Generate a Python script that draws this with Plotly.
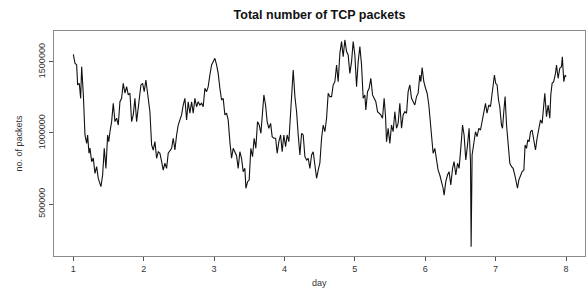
import plotly.graph_objects as go

# day (fractional) and total number of TCP packets
day = [1.000, 1.023, 1.047, 1.061, 1.084, 1.104, 1.118, 1.141, 1.165, 1.189, 1.203, 1.222, 1.236, 1.260,
       1.283, 1.307, 1.331, 1.354, 1.392, 1.416, 1.439, 1.463, 1.487, 1.503, 1.520, 1.544, 1.567, 1.591,
       1.615, 1.638, 1.662, 1.686, 1.709, 1.733, 1.757, 1.780, 1.804, 1.828, 1.851, 1.875, 1.899, 1.932,
       1.960, 1.984, 2.007, 2.031, 2.064, 2.088, 2.112, 2.135, 2.159, 2.183, 2.206, 2.230, 2.254, 2.277,
       2.301, 2.325, 2.348, 2.372, 2.396, 2.419, 2.443, 2.467, 2.490, 2.514, 2.538, 2.561, 2.585, 2.609,
       2.632, 2.656, 2.680, 2.703, 2.727, 2.751, 2.774, 2.798, 2.822, 2.845, 2.869, 2.893, 2.916, 2.940,
       2.964, 2.987, 3.011, 3.035, 3.058, 3.082, 3.106, 3.129, 3.153, 3.177, 3.200, 3.224, 3.248, 3.271,
       3.295, 3.319, 3.342, 3.366, 3.390, 3.413, 3.437, 3.452, 3.476, 3.498, 3.522, 3.546, 3.569, 3.593,
       3.617, 3.641, 3.665, 3.683, 3.707, 3.731, 3.754, 3.778, 3.803, 3.825, 3.849, 3.874, 3.896, 3.920,
       3.945, 3.967, 3.991, 4.016, 4.038, 4.062, 4.087, 4.109, 4.124, 4.148, 4.172, 4.195, 4.219, 4.243,
       4.266, 4.290, 4.314, 4.337, 4.361, 4.385, 4.408, 4.432, 4.456, 4.479, 4.503, 4.527, 4.550, 4.574,
       4.598, 4.621, 4.645, 4.669, 4.692, 4.716, 4.740, 4.763, 4.787, 4.811, 4.834, 4.858, 4.882, 4.905,
       4.929, 4.953, 4.976, 5.000, 5.024, 5.047, 5.071, 5.095, 5.118, 5.142, 5.156, 5.180, 5.203, 5.227,
       5.251, 5.274, 5.298, 5.322, 5.345, 5.369, 5.393, 5.416, 5.436, 5.450, 5.473, 5.497, 5.521, 5.544,
       5.568, 5.592, 5.615, 5.639, 5.663, 5.686, 5.710, 5.734, 5.757, 5.781, 5.805, 5.828, 5.852, 5.876,
       5.899, 5.923, 5.937, 5.956, 5.980, 6.004, 6.027, 6.051, 6.075, 6.098, 6.112, 6.136, 6.160, 6.183,
       6.207, 6.231, 6.254, 6.268, 6.292, 6.316, 6.339, 6.363, 6.388, 6.410, 6.434, 6.459, 6.481, 6.505,
       6.530, 6.552, 6.576, 6.601, 6.623, 6.643, 6.652, 6.666, 6.689, 6.714, 6.736, 6.761, 6.785, 6.807,
       6.832, 6.856, 6.878, 6.903, 6.927, 6.949, 6.973, 6.983, 7.001, 7.021, 7.041, 7.059, 7.083, 7.098,
       7.116, 7.135, 7.155, 7.178, 7.202, 7.226, 7.249, 7.273, 7.297, 7.311, 7.330, 7.354, 7.377, 7.401,
       7.419, 7.439, 7.457, 7.476, 7.496, 7.518, 7.543, 7.567, 7.589, 7.614, 7.638, 7.661, 7.685, 7.699,
       7.723, 7.746, 7.770, 7.784, 7.803, 7.825, 7.851, 7.865, 7.888, 7.912, 7.936, 7.948, 7.969, 7.987,
       8.001]

packets_k = [1554, 1491, 1479, 1338, 1350, 1244, 1467, 1280, 986, 927, 986, 857, 894, 798,
             824, 716, 763, 681, 622, 704, 892, 751, 986, 939, 1009, 1080, 1209, 1080,
             1104, 1056, 1220, 1244, 1350, 1280, 1326, 1268, 1280, 1080, 1127, 1244, 1080, 1220,
             1338, 1350, 1291, 1373, 1220, 1150, 916, 880, 939, 822, 868, 857, 798, 739,
             787, 751, 857, 880, 892, 963, 880, 986, 1056, 1092, 1127, 1197, 1244, 1092,
             1220, 1139, 1220, 1139, 1244, 1185, 1220, 1197, 1209, 1185, 1315, 1291, 1326, 1408,
             1479, 1502, 1526, 1479, 1420, 1315, 1232, 1244, 1127, 1139, 1092, 939, 822, 892,
             868, 840, 751, 868, 822, 728, 751, 611, 657, 669, 892, 833, 963, 892,
             1080, 1056, 998, 1127, 1268, 1197, 1080, 1033, 1068, 974, 963, 963, 857, 939,
             986, 868, 986, 904, 986, 939, 1150, 1315, 1444, 1256, 1150, 986, 845, 998,
             986, 833, 810, 822, 751, 845, 868, 775, 681, 739, 790, 963, 1056, 1009,
             1104, 1280, 1256, 1256, 1338, 1361, 1479, 1361, 1561, 1643, 1537, 1655, 1573, 1549,
             1420, 1502, 1643, 1549, 1326, 1502, 1608, 1479, 1244, 1268, 1162, 1291, 1315, 1385,
             1268, 1244, 1220, 1150, 1139, 1127, 1104, 1244, 1115, 939, 1033, 927, 1056, 1009,
             1150, 1033, 1068, 1209, 1033, 1127, 1150, 1139, 1291, 1338, 1244, 1220, 1197, 1256,
             1280, 1408, 1361, 1460, 1361, 1315, 1280, 1197, 1080, 963, 857, 892, 798, 739,
             704, 657, 611, 563, 657, 704, 728, 634, 751, 798, 704, 787, 751, 892,
             1056, 986, 810, 916, 1033, 798, 199, 845, 916, 1009, 974, 1033, 1021, 1080,
             1127, 1209, 1139, 1197, 1185, 1280, 1361, 1408, 1350, 1338, 1232, 1185, 1056, 1033,
             1150, 1256, 1056, 927, 787, 763, 751, 704, 657, 611, 669, 704, 728, 739,
             916, 892, 951, 939, 1009, 1021, 939, 880, 963, 1033, 1092, 1068, 1220, 1280,
             1115, 1197, 1104, 1268, 1350, 1361, 1420, 1479, 1385, 1456, 1467, 1537, 1361, 1408,
             1396]

packets = [v * 1000 for v in packets_k]

x_ticks = [1, 2, 3, 4, 5, 6, 7, 8]
y_ticks = [500000, 1000000, 1500000]
y_tick_labels = ["500000", "1000000", "1500000"]

font_family = "Liberation Sans, Arial, sans-serif"

fig = go.Figure()
fig.add_trace(go.Scatter(x=day, y=packets, mode="lines",
                         line=dict(color="#111111", width=1.1), showlegend=False))

axis_common = dict(showgrid=False, zeroline=False, showline=True, linecolor="#8a8a8a",
                   linewidth=1, mirror=True, ticks="outside", tickcolor="#555555",
                   ticklen=4, tickwidth=1, automargin=False,
                   tickfont=dict(family=font_family, size=9, color="#333333"))

fig.update_layout(
    width=586, height=289,
    margin=dict(l=54, r=1, t=31, b=33),
    paper_bgcolor="white", plot_bgcolor="white",
    title=dict(text="<b>Total number of TCP packets</b>", x=319.5 / 586, xref="container",
               xanchor="center", y=1 - 14.5 / 289, yanchor="middle",
               font=dict(family=font_family, size=12.5, color="#111111")),
    xaxis=dict(range=[0.725, 8.27], tickvals=x_ticks, **axis_common),
    yaxis=dict(range=[134000, 1718000], tickvals=y_ticks, ticktext=y_tick_labels,
               tickangle=-90, **axis_common),
    annotations=[
        dict(text="day", xref="paper", yref="paper", x=0.5, y=0, yshift=-20, xanchor="center",
             yanchor="top", showarrow=False,
             font=dict(family=font_family, size=9, color="#333333")),
        dict(text="no. of packets", xref="paper", yref="paper", x=0, xshift=-36, y=0.5,
             xanchor="center", yanchor="middle", textangle=-90, showarrow=False,
             font=dict(family=font_family, size=9, color="#333333")),
    ],
)

fig.write_html("out.html", config={"displayModeBar": False},
               post_script="document.body.style.margin='0';document.body.style.padding='0';")
